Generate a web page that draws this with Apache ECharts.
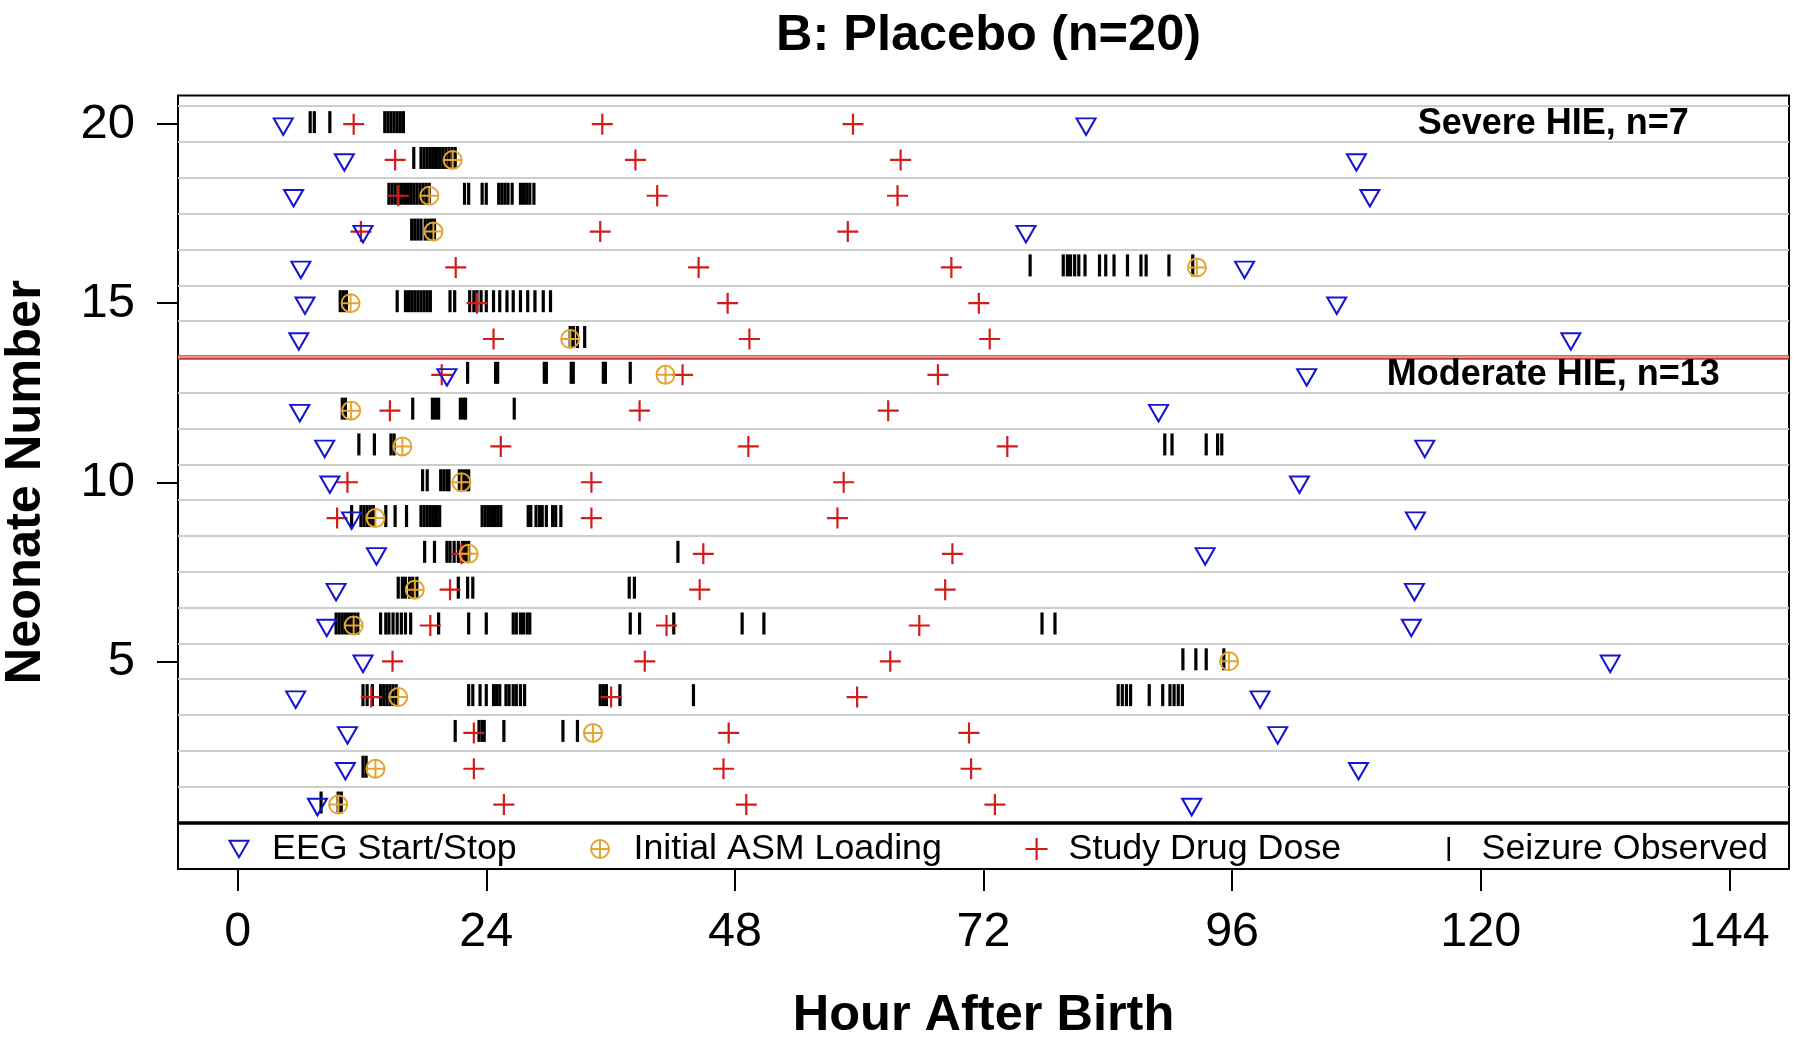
<!DOCTYPE html>
<html><head><meta charset="utf-8">
<script src="https://cdn.jsdelivr.net/npm/echarts@6/dist/echarts.min.js"></script>
<style>html,body{margin:0;padding:0;background:#fff}#c{width:1800px;height:1044px}</style>
</head><body><div id="c"></div>
<script>
// ---------------- DATA ----------------
const neonates = [20,19,18,17,16,15,14,13,12,11,10,9,8,7,6,5,4,3,2,1];
const severeCount = 7;
const groupLabels = ['Severe HIE, n=7', 'Moderate HIE, n=13'];
const groupLabelRows = [20, 13];
const xTicks = [0,24,48,72,96,120,144];
const yTicks = [5,10,15,20];

// EEG start / stop (hours), aligned with neonates
const eegTimes = [
  [4.4,81.9],[10.3,108.0],[5.4,109.3],[12.1,76.1],[6.1,97.2],
  [6.5,106.1],[5.9,128.7],[20.2,103.2],[6.0,88.9],[8.4,114.6],
  [8.9,102.5],[11.0,113.7],[13.4,93.4],[9.5,113.6],[8.6,113.3],
  [12.1,132.5],[5.6,98.7],[10.6,100.4],[10.4,108.2],[7.7,92.1]
];
// Initial ASM loading (hours)
const asmTimes = [null,20.75,18.5,18.9,92.6,10.9,32.1,41.3,10.95,15.9,
  21.6,13.3,22.3,17.1,11.2,95.7,15.5,34.3,13.3,9.7];
// Study drug doses (hours)
const doseTimes = [
  [11.2,35.2,59.4],[15.2,38.4,64.0],[15.5,40.5,63.7],[11.9,35.0,58.9],[21.05,44.5,68.9],
  [23.1,47.3,71.55],[24.7,49.4,72.6],[19.7,42.95,67.6],[14.7,38.8,62.8],[25.4,49.3,74.3],
  [10.6,34.15,58.5],[9.6,34.15,57.9],[21.6,44.95,69.0],[20.5,44.6,68.3],[18.6,41.4,65.8],
  [14.95,39.3,63.0],[12.9,36.05,59.8],[22.8,47.4,70.6],[22.8,46.9,70.8],[25.7,49.1,73.1]
];
// Seizures observed (hours)
const seizureTimes = [
  [7.0,7.4,8.9,14.2,14.5,14.8,15.1,15.4,15.7,16.0],
  [17.0,17.7,18.0,18.3,18.6,18.9,19.2,19.5,19.8,20.1,20.4,20.7,21.0],
  [14.6,14.9,15.2,15.5,15.8,16.1,16.4,16.7,17.0,17.3,17.6,17.9,18.2,18.5,21.9,22.3,23.6,24.0,25.2,25.5,25.8,26.1,26.5,27.3,27.6,27.9,28.2,28.6],
  [16.8,17.1,17.4,17.7,18.1,18.4,18.7,19.0],
  [76.5,79.7,80.1,80.4,80.8,81.2,81.8,83.2,83.8,84.6,85.9,87.2,87.7,89.9,92.2],
  [9.9,10.2,10.5,15.4,16.2,16.5,16.8,17.1,17.4,17.7,18.0,18.3,18.6,20.5,20.95,22.4,22.8,23.1,23.5,24.0,24.7,25.3,26.0,26.6,27.3,28.0,28.7,29.5,30.2],
  [32.1,32.4,32.8,33.5],
  [22.2,24.9,25.1,29.6,29.8,32.2,32.4,35.3,35.5,37.9],
  [10.1,10.4,16.9,18.8,19.1,19.4,21.5,21.8,22.0,26.7],
  [11.7,13.2,14.8,15.1,89.5,90.2,93.5,94.6,95.0],
  [17.85,18.3,19.6,19.9,20.2,20.4,21.4,21.7,22.0,22.3],
  [11.0,11.9,12.2,12.5,12.8,13.1,14.3,15.2,16.3,17.7,18.0,18.3,18.6,18.9,19.2,19.5,23.6,23.9,24.2,24.5,24.8,25.1,25.4,28.05,28.3,28.8,29.15,29.4,29.8,30.4,30.7,31.2],
  [18.05,19.0,20.2,20.5,20.9,21.3,21.7,22.0,22.3,42.5],
  [15.5,15.9,16.2,16.6,16.9,17.3,21.3,22.2,22.7,37.8,38.3],
  [9.5,9.8,10.1,10.4,10.7,11.0,11.3,11.6,13.8,14.3,14.6,15.0,15.4,15.8,16.2,16.7,19.4,22.3,24.0,26.6,26.9,27.3,27.6,27.95,28.2,37.9,38.8,42.1,48.7,50.8,77.65,78.9],
  [91.25,92.5,93.5,95.2],
  [12.1,12.5,13.0,13.8,14.1,14.4,14.7,15.0,15.3,22.3,22.7,23.4,24.0,24.7,25.0,25.3,25.9,26.2,26.6,26.9,27.3,27.7,35.0,35.3,35.6,36.9,44.0,85.0,85.4,85.8,86.2,88.0,89.3,90.0,90.4,90.8,91.2],
  [21.0,23.3,23.6,23.8,25.7,31.4,32.8],
  [12.1,12.4],
  [8.05,9.7,10.0]
];

// ---------------- BUILD ----------------
const FONT = '"Liberation Sans", Arial, Helvetica, sans-serif';
const BLUE = '#1414d2', RED = '#d21c1c', GOLD = '#E5A530';
const TRI = 'path://M0,0 L20,0 L10,17.3 Z';
const PLUS = 'path://M10,0 L10,20 M0,10 L20,10';
const OPLUS = 'path://M0,10 A10,10 0 1,1 20,10 A10,10 0 1,1 0,10 Z M10,0 L10,20 M0,10 L20,10';

const toPts = (arr) => arr.flatMap((vals, i) => vals == null ? [] :
  (Array.isArray(vals) ? vals : [vals]).map(h => [h, neonates[i]]));

const eegData = toPts(eegTimes);
const asmData = toPts(asmTimes);
const doseData = toPts(doseTimes);
const seizureData = toPts(seizureTimes);

const boundaries = neonates.map(n => n + 0.5);
const groupLine = neonates[0] - severeCount + 0.5;
const bottomLine = Math.min(...neonates) - 0.5;
const greyLines = boundaries.filter(b => b !== groupLine && b !== bottomLine);

const chart = echarts.init(document.getElementById('c'), null, {renderer: 'canvas'});
const legendBase = (left, pad, w, h, name, icon, itemStyle) => ({
  left: left, top: 829, padding: 0, itemWidth: w, itemHeight: h,
  selectedMode: false,
  data: [{name: name, icon: icon, itemStyle: itemStyle}],
  textStyle: {fontFamily: FONT, fontSize: 35.8, color: '#000', lineHeight: 40, padding: [0,0,0,pad]}
});

chart.setOption({
  animation: false,
  backgroundColor: '#fff',
  title: {
    text: 'B: Placebo (n=20)', left: 983.5, top: 6, textAlign: 'center',
    textStyle: {fontFamily: FONT, fontSize: 50.5, fontWeight: 'bold', color: '#000'}
  },
  grid: {left: 178, right: 11, top: 95.5, bottom: 175, show: true, outerBoundsMode: 'none', containLabel: false,
    borderColor: '#000', borderWidth: 2, backgroundColor: 'transparent'},
  xAxis: {
    type: 'value', min: -5.76, max: 149.76,
    axisLine: {show: false, onZero: false}, splitLine: {show: false},
    axisTick: {show: true, length: 22, lineStyle: {color: '#000', width: 2}, customValues: xTicks},
    axisLabel: {customValues: xTicks, fontFamily: FONT, fontSize: 48.5, color: '#000', margin: 39},
    name: 'Hour After Birth', nameLocation: 'middle', nameGap: 122,
    nameTextStyle: {fontFamily: FONT, fontSize: 50.5, fontWeight: 'bold', color: '#000'}
  },
  yAxis: {
    type: 'value', min: -0.8, max: 20.8,
    axisLine: {show: false, onZero: false}, splitLine: {show: false},
    axisTick: {show: true, length: 21, lineStyle: {color: '#000', width: 2}, customValues: yTicks},
    axisLabel: {customValues: yTicks, fontFamily: FONT, fontSize: 49, color: '#000', margin: 43},
    name: 'Neonate Number', nameLocation: 'middle', nameGap: 126,
    nameTextStyle: {fontFamily: FONT, fontSize: 50.5, fontWeight: 'bold', color: '#000'}
  },
  legend: [
    legendBase(228.5, 18.5, 19, 17, 'EEG Start/Stop', TRI, {color: 'transparent', borderColor: BLUE, borderWidth: 2}),
    legendBase(590, 19.5, 18, 18, 'Initial ASM Loading', OPLUS, {color: 'transparent', borderColor: GOLD, borderWidth: 2}),
    legendBase(1024.5, 16, 22, 22, 'Study Drug Dose', PLUS, {color: 'transparent', borderColor: RED, borderWidth: 2.2}),
    legendBase(1447.5, 26.5, 2.5, 24, 'Seizure Observed', 'rect', {color: '#000', borderWidth: 0})
  ],
  series: [
    {
      type: 'scatter', name: 'lines', data: [], z: 1, silent: true,
      markLine: {
        silent: true, symbol: 'none', label: {show: false}, animation: false,
        data: [
          ...greyLines.map(v => ({yAxis: v, lineStyle: {color: '#cdcdcd', width: 2, type: 'solid'}})),
          {yAxis: groupLine, lineStyle: {color: '#c83a3a', width: 4.5, type: 'solid'}},
          {yAxis: groupLine, lineStyle: {color: '#f2b0b0', width: 1.5, type: 'solid'}},
          {yAxis: bottomLine, lineStyle: {color: '#000', width: 3.5, type: 'solid'}}
        ]
      }
    },
    {
      type: 'scatter', name: 'Seizure Observed', data: seizureData, z: 3,
      symbol: 'rect', symbolSize: [3.2, 22], symbolOffset: [0, -2],
      itemStyle: {color: '#000', opacity: 1}
    },
    {
      type: 'scatter', name: 'Study Drug Dose', data: doseData, z: 4,
      symbol: PLUS, symbolSize: 21,
      itemStyle: {color: 'transparent', borderColor: RED, borderWidth: 2.2, opacity: 1}
    },
    {
      type: 'scatter', name: 'Initial ASM Loading', data: asmData, z: 5,
      symbol: OPLUS, symbolSize: 18,
      itemStyle: {color: 'transparent', borderColor: GOLD, borderWidth: 2, opacity: 1}
    },
    {
      type: 'scatter', name: 'EEG Start/Stop', data: eegData, z: 6,
      symbol: TRI, symbolSize: [19, 16.5], symbolOffset: [0, 2.5],
      itemStyle: {color: 'transparent', borderColor: BLUE, borderWidth: 2, opacity: 1}
    },
    {
      type: 'scatter', name: 'groups', z: 7, silent: true,
      data: groupLabels.map((t, i) => ({value: [127, groupLabelRows[i]], label: {formatter: t}})),
      symbolSize: 0, itemStyle: {opacity: 1, color: '#000'},
      label: {show: true, position: 'inside', fontFamily: FONT, fontSize: 36, fontWeight: 'bold', color: '#000', opacity: 1}
    }
  ]
});
</script>
</body></html>
